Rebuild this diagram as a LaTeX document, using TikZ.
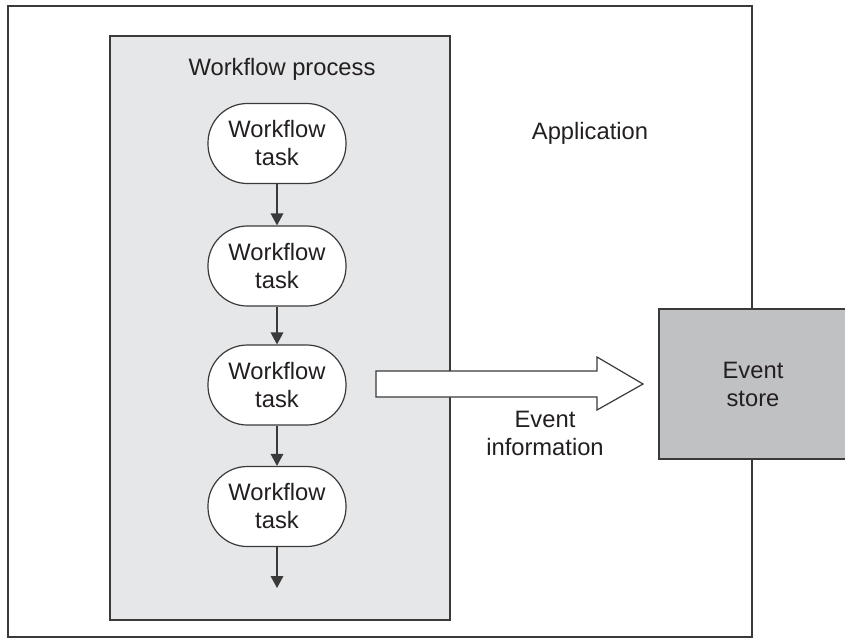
\documentclass[tikz,border=0pt]{standalone}
\usepackage{fontspec}
\setmainfont{Liberation Sans}
\usetikzlibrary{arrows.meta}
\definecolor{linec}{HTML}{3A3A3A}
\definecolor{procfill}{HTML}{E6E7E8}
\definecolor{storefill}{HTML}{C0C1C3}
\definecolor{textc}{HTML}{231F20}
\begin{document}
\begin{tikzpicture}[x=0.75pt,y=-0.75pt,
  every node/.style={font=\fontsize{17.8}{21}\selectfont, text=textc},
  task/.style={draw=linec, line width=0.9pt, fill=white, rounded corners=29.5pt,
    minimum width=138*0.75pt, minimum height=80*0.75pt, align=center, inner sep=0pt},
  flow/.style={draw=linec, line width=0.9pt, -{Triangle[width=9.5pt,length=9pt]}},
  frame/.style={draw=linec, line width=1.3pt}]
\useasboundingbox (0,0) rectangle (845,643);
\clip (0,0) rectangle (845,643);
\node[frame, fill=white, minimum width=744*0.75pt, minimum height=631*0.75pt, inner sep=0pt] (app) at (380,321.5) {};
\node[frame, fill=procfill, minimum width=340*0.75pt, minimum height=584*0.75pt, inner sep=0pt] (proc) at (280,328) {};
\node (proclabel) at (282,69) {Workflow process};
\node (applabel) at (590,133) {Application};
\node[task] (t1) at (277,143.5) {Workflow\\task};
\node[task] (t2) at (277,266) {Workflow\\task};
\node[task] (t3) at (277,385) {Workflow\\task};
\node[task] (t4) at (277,506.5) {Workflow\\task};
\coordinate (tend) at (277,588);
\draw[flow] (t1) -- (t2);
\draw[flow] (t2) -- (t3);
\draw[flow] (t3) -- (t4);
\draw[flow] (t4) -- (tend);
\node[draw=linec, line width=1.1pt, fill=storefill, minimum width=188*0.75pt, minimum height=150*0.75pt, align=center, inner sep=0pt] (store) at (753,384) {Event\\store};
\draw[draw=linec, line width=0.9pt, fill=white, line join=miter]
  (376,371) -- (597,371) -- (597,357) -- (643,384) -- (597,410) -- (597,397) -- (376,397) -- cycle;
\node[align=center] (evinfo) at (545,433) {Event\\information};
\end{tikzpicture}
\end{document}
